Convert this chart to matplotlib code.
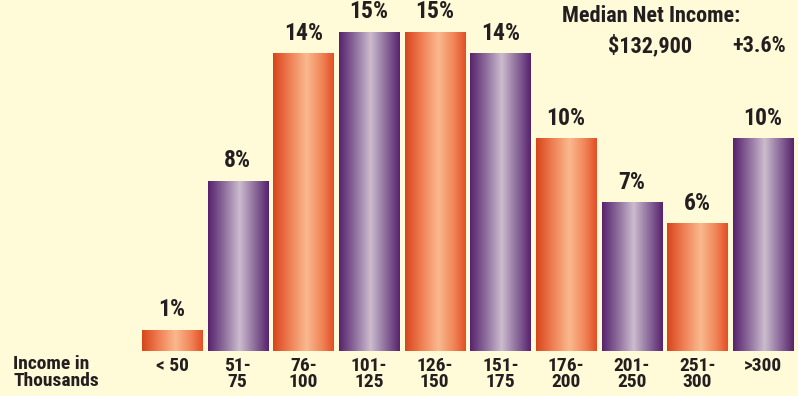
import numpy as np
import matplotlib
matplotlib.use("Agg")
import matplotlib.pyplot as plt
from matplotlib import font_manager
from matplotlib.font_manager import FontProperties
from matplotlib.colors import LinearSegmentedColormap

# data
categories = ["< 50", "51-\n75", "76-\n100", "101-\n125", "126-\n150",
              "151-\n175", "176-\n200", "201-\n250", "251-\n300", ">300"]
shares = [1, 8, 14, 15, 15, 14, 10, 7, 6, 10]
median_income = "$132,900"
median_change = "+3.6%"

bg = "#FFFAD7"
ink = "#231F20"


# pick a bold narrow face if one is installed
def weight_of(f):
    if isinstance(f.weight, int):
        return f.weight
    return font_manager.weight_dict.get(f.weight, 400)


prefs = ["Liberation Sans Narrow", "Roboto Condensed", "DejaVu Sans Condensed",
         "Open Sans Condensed", "Noto Sans Condensed"]
cands = [f for f in font_manager.fontManager.ttflist
         if ("Narrow" in f.name or "Condensed" in f.name or "condensed" in str(f.stretch))
         and weight_of(f) >= 700 and f.style == "normal"]
cands.sort(key=lambda f: (prefs.index(f.name) if f.name in prefs else 99, weight_of(f)))
if cands:
    fp = FontProperties(fname=cands[0].fname)
else:
    fp = FontProperties(family="DejaVu Sans", weight="bold")


def font(size):
    p = fp.copy()
    p.set_size(size)
    return p


orange = LinearSegmentedColormap.from_list(
    "orange", [(0, "#D6451B"), (0.25, "#EE7A4F"), (0.55, "#FAB98E"),
               (0.8, "#F08659"), (1, "#E44E25")])
purple = LinearSegmentedColormap.from_list(
    "purple", [(0, "#57226D"), (0.25, "#8B6A9A"), (0.52, "#CCBCCE"),
               (0.78, "#8A6999"), (1, "#57226D")])

fig = plt.figure(figsize=(7.98, 3.96), dpi=100, facecolor=bg)
ax = fig.add_axes([139.2 / 798, 45 / 396, 656.7 / 798, 351 / 396])
ax.set_facecolor(bg)

x = np.arange(len(shares))
bars = ax.bar(x, shares, width=0.914, color="none", edgecolor="none")
grad = np.linspace(0, 1, 256).reshape(1, -1)
for i, b in enumerate(bars):
    cmap = orange if i % 2 == 0 else purple
    im = ax.imshow(grad, cmap=cmap, aspect="auto",
                   extent=[b.get_x(), b.get_x() + b.get_width(), 0, b.get_height()],
                   zorder=2)
    im.set_clip_path(b)
    ax.text(b.get_x() + b.get_width() / 2, b.get_height() + 0.4, f"{shares[i]}%",
            ha="center", va="bottom", fontproperties=font(17), color=ink)

ax.set_xlim(-0.5, len(shares) - 0.5)
ax.set_ylim(0, 16.5)
for s in ax.spines.values():
    s.set_visible(False)
ax.set_yticks([])
ax.set_xticks(x)
ax.set_xticklabels(categories, fontproperties=font(14), color=ink,
                   linespacing=0.92, va="top")
ax.tick_params(axis="x", length=0, pad=4)

fig.text(13 / 798, 1 - 355 / 396, "Income in\nThousands", ha="left", va="top",
         fontproperties=font(14), color=ink, linespacing=0.92)

fig.text(651 / 798, 1 - 5 / 396, "Median Net Income:", ha="center", va="top",
         fontproperties=font(16), color=ink)
fig.text(650 / 798, 1 - 35 / 396, median_income, ha="center", va="top",
         fontproperties=font(16), color=ink)
fig.text(759 / 798, 1 - 35 / 396, median_change, ha="center", va="top",
         fontproperties=font(16), color=ink)

fig.savefig("out.png", dpi=100, facecolor=bg)
